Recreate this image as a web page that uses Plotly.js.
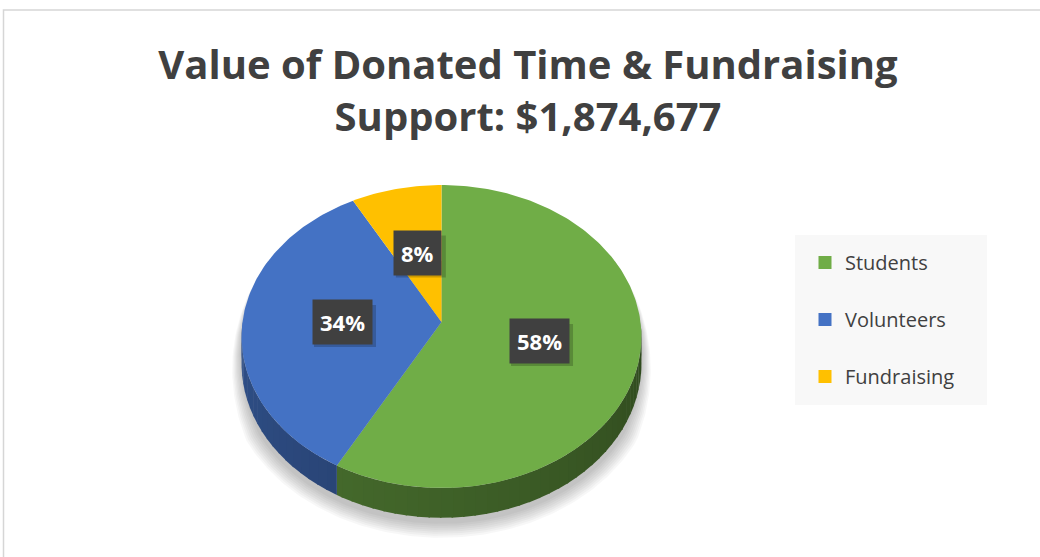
<!DOCTYPE html>
<html>
<head>
<meta charset="utf-8">
<script src="https://cdn.plot.ly/plotly-3.0.1.min.js"></script>
<style>html,body{margin:0;padding:0;background:#fff;}#chart{width:1040px;height:557px;}</style>
</head>
<body>
<div id="chart"></div>
<script>
// ---- data ----
const categories = ['Students', 'Volunteers', 'Fundraising'];
const values = [1087313, 637390, 149974];
const titleText = 'Value of Donated Time & Fundraising<br>Support: $1,874,677';

// ---- styles ----
const topColors = ['#70ad47', '#4472c4', '#ffc000'];
const FONT = 'Open Sans, Noto Sans, sans-serif';
const TXT = '#404040';

// ---- 3D pie geometry (pixel-like axes) ----
const W = 1040, H = 557;
const CX = 441.5, CY = 322, A = 199, P = 119.3, C = -0.0957, D = 27;

function proj(thDeg, r) {
  const t = thDeg * Math.PI / 180;
  const sx = r * Math.sin(t), v = -r * Math.cos(t);
  const den = 1 + C * v;
  return [CX + A * sx / den, (P * v + CY) / den, den];
}
function rimBottom(thDeg) {
  const p = proj(thDeg, 1);
  return [p[0], p[1] + D / p[2]];
}
function hexToRgb(h) { return [parseInt(h.slice(1,3),16), parseInt(h.slice(3,5),16), parseInt(h.slice(5,7),16)]; }
function shade(h, k) { const c = hexToRgb(h); return 'rgb(' + c.map(x => Math.round(x * k)).join(',') + ')'; }
function arc(a0, a1, fn) {
  const n = Math.max(2, Math.ceil(Math.abs(a1 - a0)));
  const pts = [];
  for (let i = 0; i <= n; i++) pts.push(fn(a0 + (a1 - a0) * i / n));
  return pts;
}
function polyTrace(pts, color, extra) {
  return Object.assign({
    type: 'scatter', mode: 'lines', x: pts.map(p => p[0]), y: pts.map(p => p[1]),
    fill: 'toself', fillcolor: color, line: {width: 0, color: color},
    hoverinfo: 'skip', showlegend: false
  }, extra || {});
}

const total = values.reduce((a, b) => a + b, 0);
const starts = [], ends = [];
let cum = 0;
values.forEach(v => { starts.push(cum / total * 360); cum += v; ends.push(cum / total * 360); });

const traces = [];

// soft shadow under the front half, fading out towards the sides' top
for (let g = 16; g >= 2; g -= 2) {
  const center = [CX, CY + 10];
  const pts = arc(65, 295, th => {
    const w = Math.min(1, Math.max(0, Math.min(th - 65, 295 - th) / 55));
    const p = proj(th, 1);
    const b = [p[0], p[1] + (D / p[2] + 4) * w];
    const dx = b[0] - center[0], dy = b[1] - center[1];
    const L = Math.hypot(dx, dy) || 1;
    const gg = g * w;
    return [b[0] + dx / L * gg, b[1] + dy / L * gg];
  });
  traces.push(polyTrace(pts, 'rgba(0,0,0,0.03)'));
}

// side walls (visible front half), as strips with shading
values.forEach((v, i) => {
  const a0 = Math.max(starts[i], 90), a1 = Math.min(ends[i], 270);
  if (a1 <= a0) return;
  const step = 3;
  for (let a = a0; a < a1; a += step) {
    const b = Math.min(a + step + 0.4, a1);
    const top = arc(a, b, th => { const p = proj(th, 1); return [p[0], p[1]]; });
    const bot = arc(a, b, rimBottom).reverse();
    const mid = (a + b) / 2;
    const k = 0.42 + (mid - 90) / 180 * 0.28;
    traces.push(polyTrace(top.concat(bot), shade(topColors[i], k)));
  }
});

// top faces
values.forEach((v, i) => {
  const apex = proj(0, 0);
  const pts = [[apex[0], apex[1]]].concat(arc(starts[i], ends[i], th => { const p = proj(th, 1); return [p[0], p[1]]; }));
  traces.push(polyTrace(pts, topColors[i], {name: categories[i]}));
});

// legend entries
categories.forEach((c, i) => {
  traces.push({
    type: 'scatter', mode: 'markers', x: [null], y: [null], name: c,
    legendgroup: 'g' + i,
    marker: {symbol: 'square', size: 13, color: topColors[i]},
    showlegend: true, hoverinfo: 'skip'
  });
});

// data labels, each with a soft drop shadow box (shape) behind it
const annotations = [];
const labelShadows = [];
values.forEach((v, i) => {
  const mid = (starts[i] + ends[i]) / 2;
  const p = proj(mid, 0.5);
  const txt = Math.round(v / total * 100) + '%';
  const bw = 12 * txt.length + 26, bh = 42;
  labelShadows.push({
    type: 'rect', xref: 'x', yref: 'y', xsizemode: 'pixel', ysizemode: 'pixel',
    xanchor: p[0], yanchor: p[1],
    x0: -bw / 2 + 3, x1: bw / 2 + 3, y0: -bh / 2 - 4, y1: bh / 2 - 4,
    fillcolor: 'rgba(0,0,0,0.2)', line: {width: 0}, layer: 'above'
  });
  annotations.push({
    x: p[0], y: p[1], xref: 'x', yref: 'y', showarrow: false, text: txt,
    font: {family: FONT, size: 22, color: '#ffffff', weight: 700},
    bgcolor: '#404040', borderpad: 7, xanchor: 'center', yanchor: 'middle'
  });
});

const layout = {
  width: W, height: H,
  margin: {l: 0, r: 0, t: 0, b: 0},
  paper_bgcolor: '#ffffff', plot_bgcolor: '#ffffff',
  xaxis: {range: [0, W], visible: false, fixedrange: true},
  yaxis: {range: [H, 0], visible: false, fixedrange: true},
  title: {
    text: titleText, x: 528 / W, xanchor: 'center', xref: 'paper',
    y: 1 - 79 / H, yanchor: 'top', yref: 'paper',
    font: {family: FONT, size: 40, color: TXT, weight: 700}
  },
  showlegend: true,
  legend: {
    x: 805 / W, xanchor: 'left', y: 1 - 243 / H, yanchor: 'top',
    bgcolor: 'rgba(0,0,0,0)', font: {family: FONT, size: 20, color: TXT},
    tracegroupgap: 28, itemsizing: 'trace'
  },
  shapes: [
    {type: 'rect', xref: 'paper', yref: 'paper', x0: 795 / W, x1: 987 / W, y0: 1 - 405 / H, y1: 1 - 235 / H,
     fillcolor: '#f8f8f8', line: {width: 0}, layer: 'below'},
    {type: 'rect', xref: 'paper', yref: 'paper', x0: 3.5 / W, x1: 1.01, y0: -0.05, y1: 1 - 10 / H,
     fillcolor: 'rgba(0,0,0,0)', line: {width: 1.5, color: '#d6d6d6'}, layer: 'above'}
  ].concat(labelShadows),
  annotations: annotations,
  hovermode: false
};

Plotly.newPlot('chart', traces, layout, {displayModeBar: false, staticPlot: true});
</script>
</body>
</html>
